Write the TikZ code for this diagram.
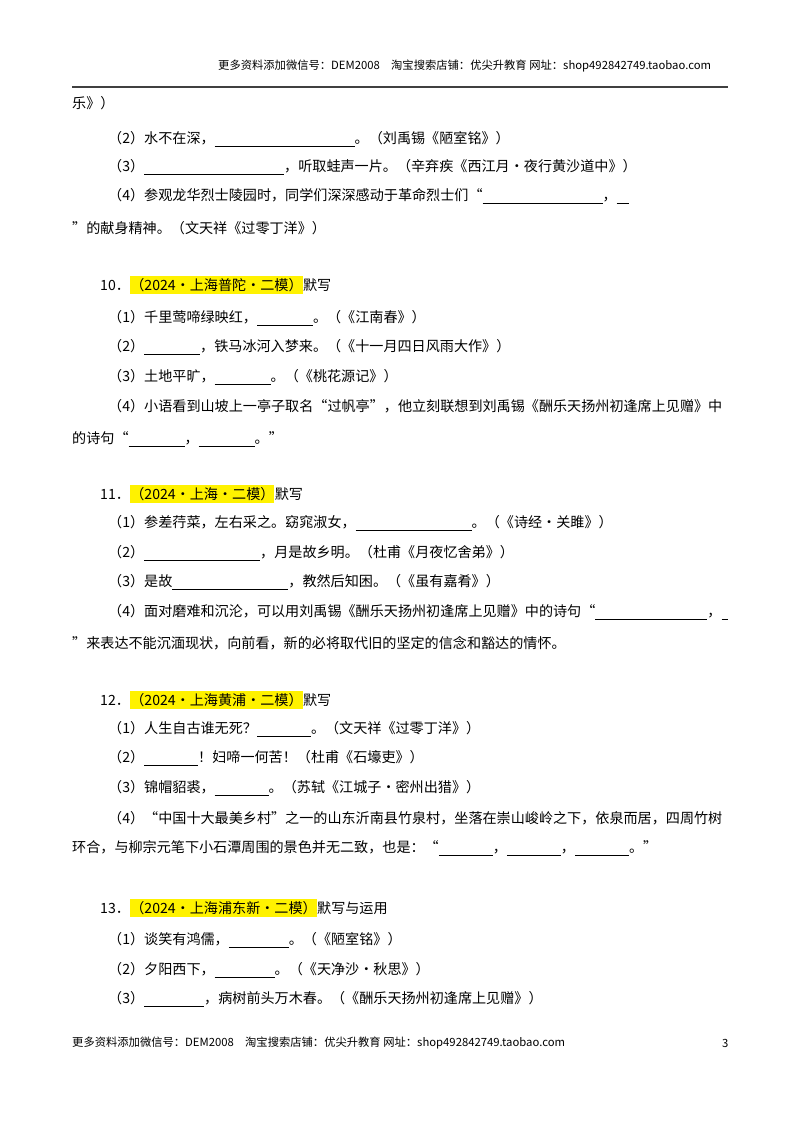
\documentclass[tikz,border=0pt]{standalone}
\usepackage{fontspec}
\setmainfont{Noto Sans CJK SC}
\usetikzlibrary{positioning}
\newcommand{\blank}[1]{\rule[-2.5pt]{#1pt}{0.6pt}}
\tikzset{
  txt/.style={anchor=west,inner sep=0pt,font=\fontsize{14.1}{16}\selectfont},
  hl/.style={txt,fill=yellow,inner ysep=2pt},
  hdr/.style={anchor=west,inner sep=0pt,font=\fontsize{11.3}{13}\selectfont}
}
\begin{document}
\begin{tikzpicture}[x=1pt,y=-1pt]
  \useasboundingbox (0,0) rectangle (800,1132);
  % Header and footer
  \node[hdr] (head) at (218,66) {更多资料添加微信号：DEM2008\quad 淘宝搜索店铺：优尖升教育 网址：shop492842749.taobao.com};
  \draw[line width=1.5pt,black!75] (72,87) -- (728,87);
  \node[hdr] (foot) at (72,1043) {更多资料添加微信号：DEM2008\quad 淘宝搜索店铺：优尖升教育 网址：shop492842749.taobao.com};
  \node[hdr] (page) at (722,1043) {3};

  % Question 9 (tail)
  \node[txt] (q9a) at (72,103) {乐》）};
  \node[txt] (q9b) at (108,139) {（2）水不在深，\blank{140}。（刘禹锡《陋室铭》）};
  \node[txt] (q9c) at (108,167) {（3）\blank{140}，听取蛙声一片。（辛弃疾《西江月·夜行黄沙道中》）};
  \node[txt] (q9d) at (108,196) {（4）参观龙华烈士陵园时，同学们深深感动于革命烈士们“\blank{120}，\blank{12}};
  \node[txt] (q9e) at (72,228) {”的献身精神。（文天祥《过零丁洋》）};

  % Question 10
  \node[txt] (n10) at (100,285) {10．};
  \node[hl,right=0pt of n10] (h10) {（2024·上海普陀·二模）};
  \node[txt,right=0pt of h10] (t10) {默写};
  \node[txt] (q10a) at (108,318) {（1）千里莺啼绿映红，\blank{56}。（《江南春》）};
  \node[txt] (q10b) at (108,347) {（2）\blank{56}，铁马冰河入梦来。（《十一月四日风雨大作》）};
  \node[txt] (q10c) at (108,377) {（3）土地平旷，\blank{56}。（《桃花源记》）};
  \node[txt] (q10d) at (108,406) {（4）小语看到山坡上一亭子取名“过帆亭”，他立刻联想到刘禹锡《酬乐天扬州初逢席上见赠》中};
  \node[txt] (q10e) at (72,439) {的诗句“\blank{56}，\blank{56}。”};

  % Question 11
  \node[txt] (n11) at (100,494) {11．};
  \node[hl,right=0pt of n11] (h11) {（2024·上海·二模）};
  \node[txt,right=0pt of h11] (t11) {默写};
  \node[txt] (q11a) at (108,523) {（1）参差荇菜，左右采之。窈窕淑女，\blank{116}。（《诗经·关雎》）};
  \node[txt] (q11b) at (108,553) {（2）\blank{116}，月是故乡明。（杜甫《月夜忆舍弟》）};
  \node[txt] (q11c) at (108,582) {（3）是故\blank{116}，教然后知困。（《虽有嘉肴》）};
  \node[txt] (q11d) at (108,612) {（4）面对磨难和沉沦，可以用刘禹锡《酬乐天扬州初逢席上见赠》中的诗句“\blank{112}，\blank{6}};
  \node[txt] (q11e) at (72,643) {”来表达不能沉湎现状，向前看，新的必将取代旧的坚定的信念和豁达的情怀。};

  % Question 12
  \node[txt] (n12) at (100,700) {12．};
  \node[hl,right=0pt of n12] (h12) {（2024·上海黄浦·二模）};
  \node[txt,right=0pt of h12] (t12) {默写};
  \node[txt] (q12a) at (108,729) {（1）人生自古谁无死？\blank{54}。（文天祥《过零丁洋》）};
  \node[txt] (q12b) at (108,758) {（2）\blank{54}！妇啼一何苦！（杜甫《石壕吏》）};
  \node[txt] (q12c) at (108,788) {（3）锦帽貂裘，\blank{54}。（苏轼《江城子·密州出猎》）};
  \node[txt] (q12d) at (108,818) {（4）“中国十大最美乡村”之一的山东沂南县竹泉村，坐落在崇山峻岭之下，依泉而居，四周竹树};
  \node[txt] (q12e) at (72,848) {环合，与柳宗元笔下小石潭周围的景色并无二致，也是：“\blank{54}，\blank{54}，\blank{54}。”};

  % Question 13
  \node[txt] (n13) at (100,908) {13．};
  \node[hl,right=0pt of n13] (h13) {（2024·上海浦东新·二模）};
  \node[txt,right=0pt of h13] (t13) {默写与运用};
  \node[txt] (q13a) at (108,940) {（1）谈笑有鸿儒，\blank{60}。（《陋室铭》）};
  \node[txt] (q13b) at (108,970) {（2）夕阳西下，\blank{60}。（《天净沙·秋思》）};
  \node[txt] (q13c) at (108,999) {（3）\blank{60}，病树前头万木春。（《酬乐天扬州初逢席上见赠》）};
\end{tikzpicture}
\end{document}
